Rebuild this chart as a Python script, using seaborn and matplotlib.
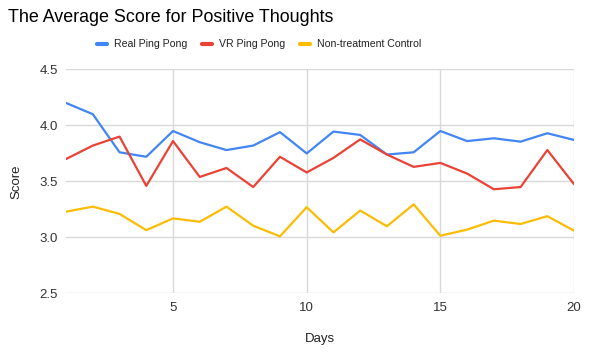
import pandas as pd
import numpy as np
import matplotlib.pyplot as plt
import seaborn as sns

# Scores
days = list(range(1, 21))
real_ping_pong = [4.20, 4.10, 3.76, 3.72, 3.95, 3.85, 3.78, 3.82, 3.94, 3.75,
                  3.945, 3.915, 3.74, 3.76, 3.95, 3.86, 3.885, 3.855, 3.93, 3.87]
vr_ping_pong = [3.70, 3.82, 3.90, 3.46, 3.86, 3.54, 3.62, 3.45, 3.72, 3.58,
                3.71, 3.875, 3.74, 3.63, 3.665, 3.57, 3.43, 3.45, 3.78, 3.475]
control = [3.23, 3.275, 3.21, 3.065, 3.17, 3.14, 3.275, 3.105, 3.01, 3.27,
           3.045, 3.24, 3.10, 3.295, 3.015, 3.07, 3.15, 3.12, 3.19, 3.06]
series_names = ["Real Ping Pong", "VR Ping Pong", "Non-treatment Control"]
colors = ["#4285F4", "#EA4335", "#FBBC04"]

df = pd.DataFrame({"Days": days * 3,
                   "Score": real_ping_pong + vr_ping_pong + control,
                   "Group": np.repeat(series_names, len(days))})

sns.set_style("white")
plt.rcParams['font.family'] = ['Liberation Sans', 'DejaVu Sans']

fig = plt.figure(figsize=(5.9, 3.54), dpi=100)
ax = fig.add_axes([0.112, 0.171, 0.861, 0.633])

sns.lineplot(data=df, x="Days", y="Score", hue="Group", hue_order=series_names,
             palette=colors, linewidth=1.6, ax=ax, legend=False)

ax.set_xlim(1, 20)
ax.set_ylim(2.5, 4.5)
ax.set_xticks([5, 10, 15, 20])
ax.set_yticks([2.5, 3.0, 3.5, 4.0, 4.5])
ax.set_yticklabels(["2.5", "3.0", "3.5", "4.0", "4.5"])
ax.grid(True, color="#d9d9d9", linewidth=1)
ax.set_axisbelow(True)
for s in ax.spines.values():
    s.set_visible(False)
ax.tick_params(length=0, labelsize=9.5, colors="#333333", pad=6)
ax.set_xlabel("Days", fontsize=9.5, color="#222222", labelpad=14)
ax.set_ylabel("Score", fontsize=9.5, color="#222222", labelpad=12)

fig.text(0.014, 0.95, "The Average Score for Positive Thoughts", fontsize=12.9,
         color="#000000", va="center", ha="left")

handles = [plt.Line2D([], [], color=c, linewidth=3) for c in colors]
fig.legend(handles, series_names, loc="center", bbox_to_anchor=(0.439, 0.875),
           ncol=3, frameon=False, fontsize=7.6, handlelength=0.95,
           columnspacing=1.35, handletextpad=0.7, labelcolor="#222222")

plt.savefig("out.png", dpi=100)
